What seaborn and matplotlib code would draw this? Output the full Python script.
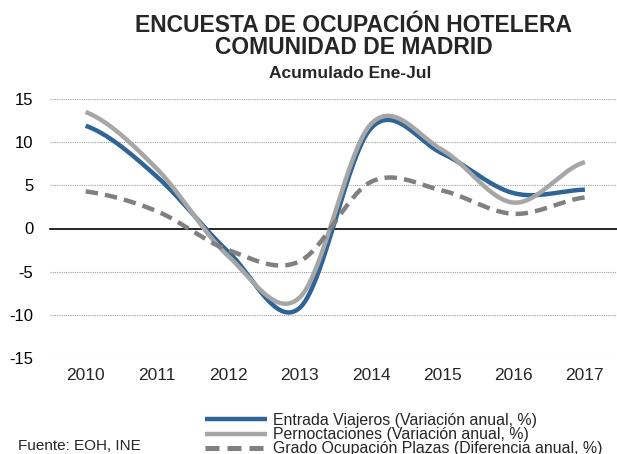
import numpy as np
import pandas as pd
import matplotlib
matplotlib.use("Agg")
import matplotlib.pyplot as plt
import seaborn as sns
from matplotlib.lines import Line2D

# Series (annual variation, %), Jan-Jul cumulative
years = ["2010", "2011", "2012", "2013", "2014", "2015", "2016", "2017"]
viajeros = [11.9, 6.0, -2.7, -9.2, 11.6, 8.7, 4.1, 4.5]
pernoctaciones = [13.5, 6.9, -3.2, -8.0, 12.1, 9.1, 3.0, 7.7]
grado_ocupacion = [4.3, 2.0, -2.5, -3.8, 5.4, 4.4, 1.7, 3.6]

labels = [
    "Entrada Viajeros (Variación anual, %)",
    "Pernoctaciones (Variación anual, %)",
    "Grado Ocupación Plazas (Diferencia anual, %)",
]
colors = ["#2E6496", "#A6A6A6", "#808080"]


def smooth(values, n=40):
    """Catmull-Rom style smoothed curve through the given points."""
    p = np.asarray(values, dtype=float)
    ext = np.concatenate([[p[0]], p, [p[-1]]])
    xs, ys = [], []
    t = np.linspace(0, 1, n, endpoint=False)
    for i in range(len(p) - 1):
        p0, p1, p2, p3 = ext[i], ext[i + 1], ext[i + 2], ext[i + 3]
        c1 = p1 + (p2 - p0) / 6.0
        c2 = p2 - (p3 - p1) / 6.0
        y = ((1 - t) ** 3) * p1 + 3 * ((1 - t) ** 2) * t * c1 + 3 * (1 - t) * t ** 2 * c2 + t ** 3 * p2
        xs.append(i + t)
        ys.append(y)
    xs.append([len(p) - 1])
    ys.append([p[-1]])
    return np.concatenate(xs), np.concatenate(ys)


sns.set_style("white")
plt.rcParams["font.family"] = ["Liberation Sans", "DejaVu Sans"]

fig = plt.figure(figsize=(6.17, 4.54), dpi=100)
ax = fig.add_axes([50 / 617, 96 / 454, 567 / 617, 259 / 454])

frames = []
for name, vals in zip(labels, [viajeros, pernoctaciones, grado_ocupacion]):
    sx, sy = smooth(vals)
    frames.append(pd.DataFrame({"x": sx, "y": sy, "serie": name}))
df = pd.concat(frames, ignore_index=True)

styles = {labels[0]: "", labels[1]: "", labels[2]: (2.8, 1.6)}
for name, color in zip(labels, colors):
    sub = df[df["serie"] == name]
    line_kws = dict(lw=3.2, solid_capstyle="butt")
    if styles[name]:
        line_kws["dashes"] = styles[name]
    sns.lineplot(data=sub, x="x", y="y", color=color, ax=ax, sort=False,
                 estimator=None, legend=False, **line_kws)

ax.set_xlim(-0.5, 7.45)
ax.set_ylim(-15, 15)
ax.set_yticks([-15, -10, -5, 0, 5, 10, 15])
ax.set_yticklabels(["-15", "-10", "-5", "0", "5", "10", "15"])
ax.tick_params(axis="y", length=0, pad=12, labelsize=12, labelcolor="#000000")
ax.set_xlabel("")
ax.set_ylabel("")

# dotted horizontal gridlines
for v in [-15, -10, -5, 5, 10, 15]:
    ax.axhline(v, color="#A0A0A0", lw=0.8, ls=(0, (1, 1)), zorder=0)

for s in ["top", "right", "left"]:
    ax.spines[s].set_visible(False)
# category axis crossing at zero, ticks between categories
ax.spines["bottom"].set_position(("data", 0))
ax.spines["bottom"].set_color("black")
ax.spines["bottom"].set_linewidth(1.2)
ax.spines["bottom"].set_zorder(1)
ax.set_xticks(np.arange(-0.5, 7.0, 1.0))
ax.set_xticklabels([])
ax.tick_params(axis="x", direction="out", length=5, width=1.0, color="black")

# year labels along the bottom of the plot area
sec = ax.secondary_xaxis("bottom")
sec.set_xticks(range(len(years)))
sec.set_xticklabels(years)
sec.tick_params(length=0, pad=7, labelsize=12.5)
sec.spines["bottom"].set_visible(False)

# titles
fig.text(354 / 617, 1 - 25 / 454, "ENCUESTA DE OCUPACIÓN HOTELERA", ha="center", va="center",
         fontsize=16.5, fontweight="bold")
fig.text(354 / 617, 1 - 47.5 / 454, "COMUNIDAD DE MADRID", ha="center", va="center",
         fontsize=16.5, fontweight="bold")
fig.text(350 / 617, 1 - 74 / 454, "Acumulado Ene-Jul", ha="center", va="center",
         fontsize=12.5, fontweight="bold")

# legend
handles = [
    Line2D([], [], color=colors[0], lw=3.2, solid_capstyle="butt"),
    Line2D([], [], color=colors[1], lw=3.2, solid_capstyle="butt"),
    Line2D([], [], color=colors[2], lw=3.6, dashes=(2.8, 1.6)),
]
fig.legend(handles, labels, loc="upper left", bbox_to_anchor=(205 / 617, 1 - 413 / 454),
           frameon=False, fontsize=11.4, handlelength=3.9, handletextpad=0.4,
           labelspacing=-0.05, borderpad=0, borderaxespad=0)

fig.text(18 / 617, 1 - 446 / 454, "Fuente: EOH, INE", ha="left", va="center", fontsize=11)

fig.savefig("out.png", dpi=100)
